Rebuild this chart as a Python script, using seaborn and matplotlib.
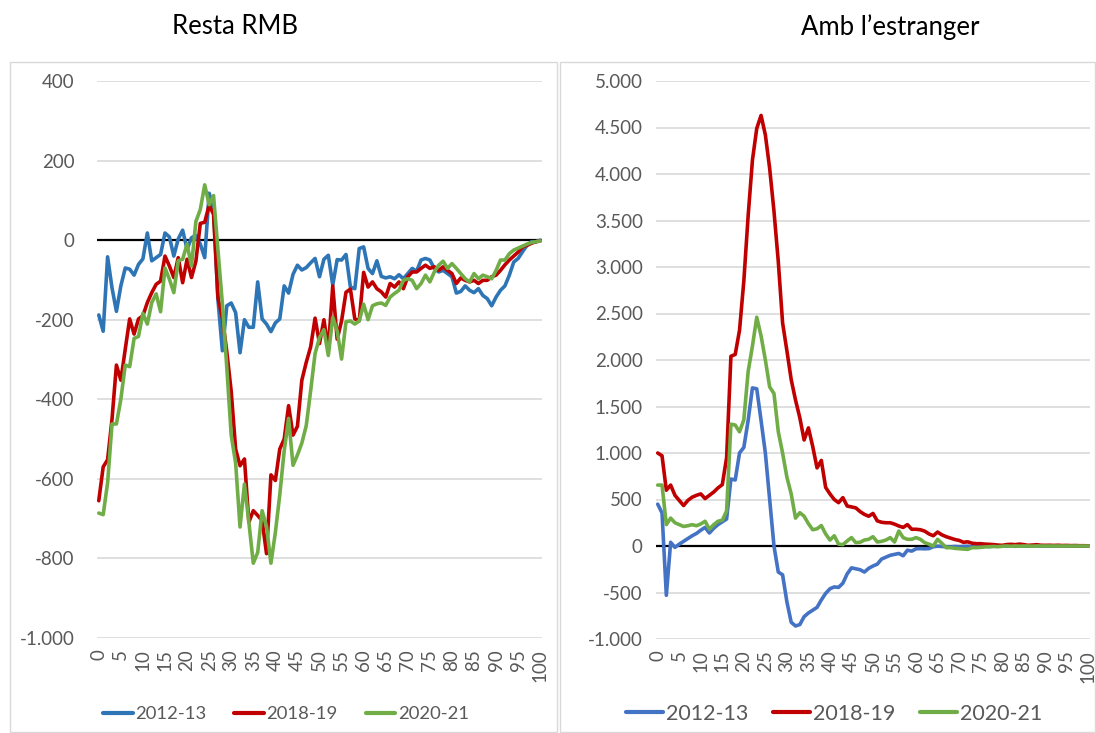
import numpy as np
import pandas as pd
import seaborn as sns
import matplotlib.pyplot as plt
from matplotlib.patches import Rectangle
from matplotlib.lines import Line2D
from matplotlib.ticker import FuncFormatter

sns.set_theme(style="white")
plt.rcParams['font.family'] = ['Lato', 'DejaVu Sans']

# Data (x = 0..100)
steps = list(range(101))
series = ["2012-13", "2018-19", "2020-21"]

rmb_2012 = [-188, -229, -42, -120, -179, -115, -70, -73, -88, -61,
            -47, 18, -52, -44, -36, 18, 8, -40, 3, 25,
            -23, 6, 12, -10, -44, 118, 80, -150, -278, -165,
            -158, -182, -283, -200, -219, -219, -105, -198, -211, -230,
            -208, -198, -115, -133, -86, -63, -75, -69, -57, -46,
            -92, -48, -38, -113, -49, -50, -36, -118, -122, -21,
            -17, -71, -84, -52, -91, -95, -92, -97, -87, -97,
            -84, -71, -78, -50, -46, -50, -71, -80, -76, -84,
            -92, -133, -129, -115, -126, -132, -122, -139, -147, -165,
            -143, -126, -115, -88, -55, -46, -29, -13, -4, -4, 0]
rmb_2018 = [-655, -570, -552, -450, -314, -352, -274, -198, -236, -198,
            -190, -157, -132, -111, -103, -40, -65, -94, -44, -107,
            -48, -94, -53, 42, 45, 88, 65, -145, -195, -280,
            -380, -525, -567, -550, -709, -680, -692, -705, -788, -590,
            -604, -525, -500, -416, -490, -468, -352, -307, -268, -196,
            -260, -200, -274, -115, -249, -203, -131, -123, -198, -203,
            -81, -118, -105, -122, -130, -143, -109, -118, -105, -122,
            -92, -80, -80, -71, -63, -71, -67, -76, -67, -76,
            -84, -109, -95, -101, -105, -101, -109, -101, -101, -92,
            -88, -76, -62, -50, -40, -30, -17, -13, -8, -4, -2]
rmb_2020 = [-686, -690, -610, -462, -462, -400, -314, -318, -247, -242,
            -184, -211, -157, -135, -180, -70, -98, -132, -52, -48,
            -10, -65, 47, 77, 139, 89, 112, -25, -160, -320,
            -490, -560, -721, -613, -709, -812, -785, -680, -720, -812,
            -735, -640, -530, -448, -566, -540, -510, -466, -378, -285,
            -245, -225, -290, -194, -228, -299, -205, -203, -211, -203,
            -161, -200, -165, -160, -158, -164, -143, -134, -126, -101,
            -97, -101, -122, -109, -88, -105, -80, -63, -53, -71,
            -59, -71, -84, -97, -105, -84, -97, -88, -92, -97,
            -76, -50, -50, -34, -25, -20, -15, -10, -6, -4, -2]

ext_2012 = [450, 355, -530, 40, -15, 20, 50, 80, 110, 135,
            170, 200, 140, 190, 230, 260, 290, 720, 710, 1000,
            1060, 1350, 1700, 1690, 1350, 1000, 500, 0, -280, -310,
            -600, -820, -860, -845, -760, -720, -690, -660, -580, -510,
            -460, -440, -445, -400, -300, -235, -245, -255, -280, -240,
            -215, -195, -140, -120, -100, -90, -80, -105, -45, -55,
            -30, -28, -30, -28, -8, -2, -5, -8, -10, -5,
            -8, -5, -3, -10, -5, -3, 0, -5, -2, 0,
            0, -2, 0, -3, 0, 0, -2, 0, 0, 0,
            0, 0, 0, 0, 0, 0, 0, 0, 0, 0, 0]
ext_2018 = [1000, 970, 600, 655, 545, 490, 435, 490, 525, 545,
            560, 510, 545, 580, 625, 660, 950, 2040, 2060, 2320,
            2850, 3550, 4150, 4490, 4630, 4420, 4060, 3600, 3060, 2400,
            2100, 1790, 1570, 1380, 1140, 1270, 1070, 840, 920, 630,
            560, 500, 466, 520, 430, 420, 410, 370, 340, 320,
            350, 270, 255, 250, 250, 235, 215, 200, 230, 180,
            180, 175, 160, 130, 110, 150, 120, 100, 85, 70,
            60, 40, 45, 30, 25, 25, 20, 18, 15, 10,
            7, 15, 18, 14, 20, 15, 7, 10, 14, 8,
            7, 8, 6, 8, 5, 6, 4, 5, 3, 3, 2]
ext_2020 = [655, 655, 230, 300, 250, 230, 210, 218, 229, 218,
            237, 266, 181, 229, 266, 277, 377, 1310, 1300, 1228,
            1357, 1875, 2150, 2460, 2260, 2000, 1710, 1640, 1230, 1000,
            740, 560, 300, 358, 320, 240, 175, 185, 220, 130,
            64, 110, 20, 15, 54, 90, 36, 40, 64, 72,
            100, 43, 50, 64, 90, 43, 161, 90, 72, 72,
            90, 72, 36, 20, 0, 72, 29, -18, -18, -25,
            -29, -33, -36, -18, -18, -15, -10, -8, -5, -8,
            -3, 0, -3, 0, -2, 0, 0, -2, 0, 0,
            0, 0, 0, 0, 0, 0, 0, 0, 0, 0, 0]


def long_frame(a, b, c):
    return pd.DataFrame({
        "step": steps * 3,
        "value": a + b + c,
        "series": [s for s in series for _ in steps],
    })


df_rmb = long_frame(rmb_2012, rmb_2018, rmb_2020)
df_ext = long_frame(ext_2012, ext_2018, ext_2020)

W, H = 1096, 733
fig = plt.figure(figsize=(W / 100, H / 100), dpi=100)

# chart frames
for x0, x1 in [(10, 557), (560, 1095)]:
    fig.add_artist(Rectangle((x0 / W, 1 - 732 / H), (x1 - x0) / W, (732 - 62) / H,
                             transform=fig.transFigure, fill=False,
                             edgecolor="#D9D9D9", lw=1))


def fmt(v, pos):
    return f"{v:,.0f}".replace(",", ".")


def draw(df, rect, palette, yticks, ypad, title, title_x, legend_x, legend_fs,
         hlen, cspace):
    ax = fig.add_axes(rect)
    sns.lineplot(data=df, x="step", y="value", hue="series", palette=palette,
                 lw=2.6, ax=ax, legend=False)
    for ln in ax.lines:
        ln.set_solid_joinstyle("round")
    ax.axhline(0, color="black", lw=1.6, zorder=1)
    ax.set_xlim(-0.4, 100.4)
    ax.set_ylim(yticks[0], yticks[-1])
    ax.set_yticks(yticks)
    ax.set_xticks(range(0, 101, 5))
    ax.yaxis.set_major_formatter(FuncFormatter(fmt))
    ax.yaxis.grid(True, color="#D9D9D9", lw=1.2)
    ax.set_axisbelow(True)
    for s in ax.spines.values():
        s.set_visible(False)
    ax.tick_params(axis="y", length=0, pad=ypad, labelsize=13.5, labelcolor="#595959")
    ax.tick_params(axis="x", length=0, pad=8, labelsize=13.5, labelcolor="#595959",
                   labelrotation=90)
    ax.set_xlabel("")
    ax.set_ylabel("")
    fig.text(title_x / W, 1 - 27 / H, title, ha="center", va="center",
             fontsize=18.5, color="black")
    handles = [Line2D([0], [0], color=palette[s], lw=3) for s in series]
    fig.legend(handles, series, loc="center", bbox_to_anchor=(legend_x / W, 1 - 714 / H),
               ncol=3, frameon=False, fontsize=legend_fs, handlelength=hlen,
               handletextpad=0.15, columnspacing=cspace, labelcolor="#595959")
    return ax


pal_left = {"2012-13": "#2E75B6", "2018-19": "#C00000", "2020-21": "#70AD47"}
pal_right = {"2012-13": "#4472C4", "2018-19": "#C00000", "2020-21": "#70AD47"}

draw(df_rmb, [97 / W, 1 - 638 / H, (542 - 97) / W, (638 - 81) / H], pal_left,
     list(range(-1000, 401, 200)), 16, "Resta RMB", 235, 286, 13.3, 1.6, 1.5)
draw(df_ext, [656 / W, 1 - 639 / H, (1090 - 656) / W, (639 - 81) / H], pal_right,
     list(range(-1000, 5001, 500)), 9.5, "Amb l\u2019estranger", 890, 834, 15.5, 1.7, 1.15)

fig.savefig("out.png", dpi=100)
